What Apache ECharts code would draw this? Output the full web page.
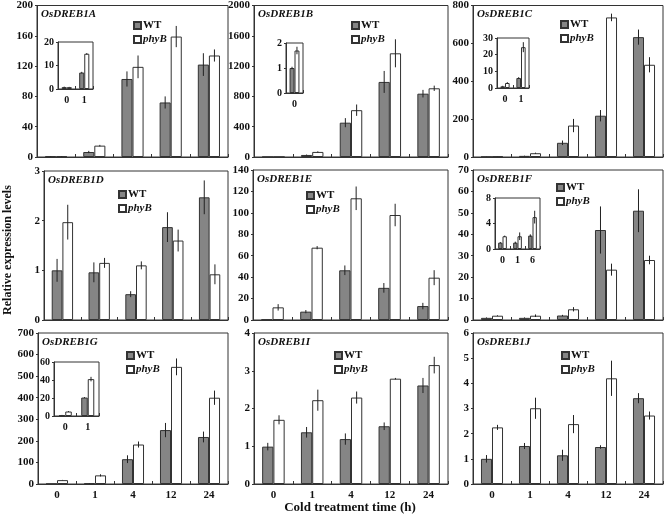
<!DOCTYPE html>
<html><head><meta charset="utf-8">
<script src="https://cdn.jsdelivr.net/npm/echarts@6/dist/echarts.min.js"></script>
<style>html,body{margin:0;padding:0;background:#fff}#c{width:666px;height:517px}</style>
</head><body><div id="c"></div>
<script>
// ---------- data ----------
const categories = ['0', '1', '4', '12', '24'];

const A_WT = [1, 6.6, 103, 72, 122],        A_WT_err = [0.3, 1.5, 10, 8, 15];
const A_phyB = [1, 15, 119, 159, 134],      A_phyB_err = [0.3, 1, 15, 14, 8];
const B_WT = [1, 27, 453, 991, 836],        B_WT_err = [0, 5, 60, 145, 50];
const B_phyB = [1.7, 67, 618, 1369, 907],   B_phyB_err = [0, 8, 75, 185, 35];
const C_WT = [1, 6, 75, 218, 633],          C_WT_err = [0.5, 1, 12, 30, 40];
const C_phyB = [3, 20, 166, 737, 487],      C_phyB_err = [0.5, 3, 35, 20, 40];
const D_WT = [1, 0.96, 0.52, 1.87, 2.47],   D_WT_err = [0.23, 0.2, 0.06, 0.3, 0.34];
const D_phyB = [1.97, 1.15, 1.1, 1.6, 0.92],D_phyB_err = [0.35, 0.1, 0.08, 0.22, 0.2];
const E_WT = [0.5, 7.8, 46.4, 30, 13],      E_WT_err = [0, 1.5, 4.5, 4.5, 3];
const E_phyB = [11.8, 67.5, 113.6, 98, 39.5], E_phyB_err = [3, 1.5, 11, 10.5, 7];
const F_WT = [1, 1, 2.1, 42, 51],           F_WT_err = [0.2, 0.2, 0.3, 11, 10];
const F_phyB = [2, 2, 5, 23.5, 28],         F_phyB_err = [0.2, 0.6, 1, 2.8, 2];
const G_WT = [1, 3, 115, 250, 218],         G_WT_err = [0, 1, 18, 33, 25];
const G_phyB = [18, 40, 183, 543, 400],     G_phyB_err = [1, 5, 14, 39, 33];
const I_WT = [0.99, 1.37, 1.19, 1.53, 2.61],I_WT_err = [0.1, 0.14, 0.15, 0.1, 0.2];
const I_phyB = [1.7, 2.22, 2.29, 2.79, 3.15], I_phyB_err = [0.12, 0.28, 0.16, 0.02, 0.22];
const J_WT = [1.0, 1.51, 1.14, 1.47, 3.41], J_WT_err = [0.15, 0.12, 0.22, 0.07, 0.2];
const J_phyB = [2.25, 3.01, 2.38, 4.2, 2.72], J_phyB_err = [0.1, 0.42, 0.36, 0.7, 0.16];

// insets
const insA_cats = ['0', '1'], insA_WT = [0.8, 7], insA_WT_err = [0.2, 0.3], insA_phyB = [0.8, 15], insA_phyB_err = [0.1, 0.3];
const insB_cats = ['0'], insB_WT = [1], insB_WT_err = [0.05], insB_phyB = [1.7], insB_phyB_err = [0.15];
const insC_cats = ['0', '1'], insC_WT = [1, 6], insC_WT_err = [0.3, 0.5], insC_phyB = [3, 24.5], insC_phyB_err = [0.5, 3];
const insF_cats = ['0', '1', '6'], insF_WT = [1, 1, 2.1], insF_WT_err = [0.1, 0.15, 0.2], insF_phyB = [2, 2, 5], insF_phyB_err = [0.1, 0.6, 1];
const insG_cats = ['0', '1'], insG_WT = [1, 20.5], insG_WT_err = [0.2, 0.5], insG_phyB = [5, 41], insG_phyB_err = [0.5, 2.5];

const yTicksMax = { A: 200, B: 2000, C: 800, D: 3, E: 140, F: 70, G: 700, I: 4, J: 6 };
const yTicksStep = { A: 40, B: 400, C: 200, D: 1, E: 20, F: 10, G: 100, I: 1, J: 1 };
const titles = { A: 'OsDREB1A', B: 'OsDREB1B', C: 'OsDREB1C', D: 'OsDREB1D', E: 'OsDREB1E', F: 'OsDREB1F', G: 'OsDREB1G', I: 'OsDREB1I', J: 'OsDREB1J' };

// ---------- layout ----------
const FONT = "'Liberation Serif','Times New Roman',serif";
const panels = [
  { k: 'A', wt: A_WT, we: A_WT_err, pb: A_phyB, pe: A_phyB_err, box: [37, 5, 228, 157], leg: [133, 20], xl: false },
  { k: 'B', wt: B_WT, we: B_WT_err, pb: B_phyB, pe: B_phyB_err, box: [254, 5, 448, 157], leg: [351, 20], xl: false },
  { k: 'C', wt: C_WT, we: C_WT_err, pb: C_phyB, pe: C_phyB_err, box: [473, 5, 663, 157], leg: [560, 19], xl: false },
  { k: 'D', wt: D_WT, we: D_WT_err, pb: D_phyB, pe: D_phyB_err, box: [44, 171, 228, 320], leg: [118, 189], xl: false },
  { k: 'E', wt: E_WT, we: E_WT_err, pb: E_phyB, pe: E_phyB_err, box: [253, 170, 448, 320], leg: [306, 190], xl: false },
  { k: 'F', wt: F_WT, we: F_WT_err, pb: F_phyB, pe: F_phyB_err, box: [473, 170, 663, 320], leg: [556, 182], xl: false },
  { k: 'G', wt: G_WT, we: G_WT_err, pb: G_phyB, pe: G_phyB_err, box: [38, 333, 228, 484], leg: [126, 350], xl: true },
  { k: 'I', wt: I_WT, we: I_WT_err, pb: I_phyB, pe: I_phyB_err, box: [254, 333, 448, 484], leg: [334, 350], xl: true },
  { k: 'J', wt: J_WT, we: J_WT_err, pb: J_phyB, pe: J_phyB_err, box: [473, 333, 663, 484], leg: [561, 350], xl: true }
];
const insets = [
  { cats: insA_cats, wt: insA_WT, we: insA_WT_err, pb: insA_phyB, pe: insA_phyB_err, max: 20, step: 10, box: [58, 42, 93, 89] },
  { cats: insB_cats, wt: insB_WT, we: insB_WT_err, pb: insB_phyB, pe: insB_phyB_err, max: 2, step: 1, box: [286, 43, 303, 93] },
  { cats: insC_cats, wt: insC_WT, we: insC_WT_err, pb: insC_phyB, pe: insC_phyB_err, max: 30, step: 10, box: [497, 38, 529, 88] },
  { cats: insF_cats, wt: insF_WT, we: insF_WT_err, pb: insF_phyB, pe: insF_phyB_err, max: 8, step: 4, box: [495, 198, 540, 249] },
  { cats: insG_cats, wt: insG_WT, we: insG_WT_err, pb: insG_phyB, pe: insG_phyB_err, max: 60, step: 20, box: [54, 362, 99, 416] }
];

const grid = [], xAxis = [], yAxis = [], series = [], title = [], legend = [];
const BARW = 0.29;

function errSeries(idx, vals, errs, sign) {
  return {
    type: 'custom', xAxisIndex: idx, yAxisIndex: idx, z: 10, silent: true,
    data: vals.map((v, i) => [i, v, errs[i]]),
    renderItem: function (params, api) {
      const x = api.value(0), v = api.value(1), e = api.value(2);
      const bw = api.size([1, 0])[0];
      const c = api.coord([x, v]);
      const off = sign * bw * BARW / 2;
      const p1 = api.coord([x, v + e]), p2 = api.coord([x, Math.max(0, v - e)]);
      return { type: 'line', shape: { x1: c[0] + off, y1: p1[1], x2: c[0] + off, y2: p2[1] },
        style: { stroke: '#222', lineWidth: 1 } };
    }
  };
}

function addChart(cats, wt, we, pb, pe, max, step, box, showX, fs) {
  const idx = grid.length;
  grid.push({ left: box[0], top: box[1], width: box[2] - box[0], height: box[3] - box[1],
    show: true, borderColor: '#333', borderWidth: 1, backgroundColor: 'transparent', containLabel: false });
  xAxis.push({ type: 'category', gridIndex: idx, data: cats, boundaryGap: true,
    axisLine: { show: true, lineStyle: { color: '#333' } },
    axisTick: { show: true, inside: true, length: 3, lineStyle: { color: '#333' } },
    axisLabel: { show: showX, color: '#111', fontFamily: FONT, fontWeight: 'bold', fontSize: fs, margin: 6 } });
  yAxis.push({ type: 'value', gridIndex: idx, min: 0, max: max, interval: step,
    splitLine: { show: false },
    axisLine: { show: true, lineStyle: { color: '#333' } },
    axisTick: { show: true, length: 2, lineStyle: { color: '#333' } },
    axisLabel: { color: '#111', fontFamily: FONT, fontWeight: 'bold', fontSize: fs, margin: 4,
      formatter: v => String(v) } });
  series.push({ name: 'WT', type: 'bar', xAxisIndex: idx, yAxisIndex: idx, data: wt,
    barWidth: (BARW * 100) + '%', barGap: '0%',
    itemStyle: { color: '#858585', borderColor: '#333', borderWidth: 1 } });
  series.push({ name: 'phyB', type: 'bar', xAxisIndex: idx, yAxisIndex: idx, data: pb,
    barWidth: (BARW * 100) + '%', barGap: '0%',
    itemStyle: { color: '#ffffff', borderColor: '#333', borderWidth: 1 } });
  series.push(errSeries(idx, wt, we, -1));
  series.push(errSeries(idx, pb, pe, 1));
}

panels.forEach(p => {
  addChart(categories, p.wt, p.we, p.pb, p.pe, yTicksMax[p.k], yTicksStep[p.k], p.box, p.xl, 11);
  title.push({ text: titles[p.k], left: p.box[0] + 4, top: p.box[1] + 4, padding: 0,
    textStyle: { fontFamily: FONT, fontWeight: 'bold', fontStyle: 'italic', fontSize: 11, color: '#111' } });
  legend.push({ left: p.leg[0], top: p.leg[1], orient: 'vertical', itemWidth: 7, itemHeight: 7, itemGap: 3,
    padding: 0, icon: 'rect', selectedMode: false, data: ['WT', 'phyB'],
    formatter: n => n === 'phyB' ? '{i|phyB}' : '{b|WT}',
    textStyle: { padding: [0, 0, 0, -3], rich: {
      i: { fontFamily: FONT, fontWeight: 'bold', fontStyle: 'italic', fontSize: 11, color: '#111' },
      b: { fontFamily: FONT, fontWeight: 'bold', fontSize: 11, color: '#111' } } } });
});
insets.forEach(s => addChart(s.cats, s.wt, s.we, s.pb, s.pe, s.max, s.step, s.box, true, 10));

const chart = echarts.init(document.getElementById('c'), null, { renderer: 'canvas' });
chart.setOption({
  animation: false,
  backgroundColor: '#fff',
  title: title, legend: legend, grid: grid, xAxis: xAxis, yAxis: yAxis, series: series,
  graphic: [
    { type: 'text', x: 8, y: 250, rotation: Math.PI / 2,
      style: { text: 'Relative expression levels', fontFamily: FONT, fontWeight: 'bold', fontSize: 12,
        fill: '#111', align: 'center', verticalAlign: 'middle' } },
    { type: 'text', x: 350, y: 508,
      style: { text: 'Cold treatment time (h)', fontFamily: FONT, fontWeight: 'bold', fontSize: 13,
        fill: '#111', align: 'center', verticalAlign: 'middle' } }
  ]
});
</script></body></html>
